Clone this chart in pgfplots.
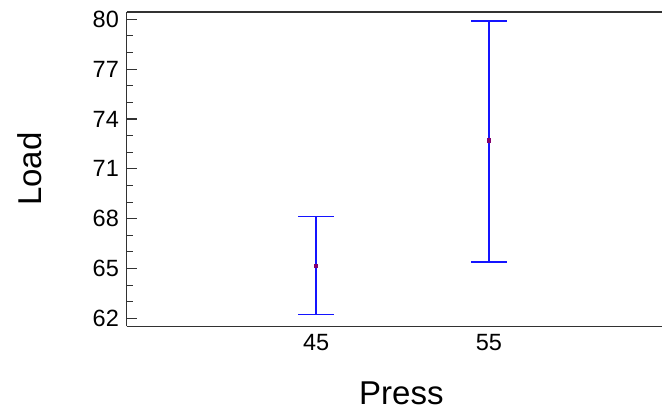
\documentclass[border=0pt]{standalone}
\usepackage{pgfplots}
\pgfplotsset{compat=1.18}
\usepackage{fontspec}
\setmainfont{Liberation Sans}
\definecolor{barblue}{RGB}{20,20,255}
\definecolor{meancol}{RGB}{130,0,110}
\definecolor{axgray}{RGB}{50,50,50}
\begin{document}
\begin{tikzpicture}
\path (-126.7pt,-84.5pt) rectangle (536.3pt,326.5pt);
\begin{axis}[
  at={(0,0)}, anchor=south west,
  scale only axis,
  width=535.5pt, height=314.5pt,
  xmin=34.04, xmax=65.03,
  ymin=61.51, ymax=80.44,
  axis x line*=box, axis y line*=left,
  axis line style={color=axgray, line width=1.3pt},
  xtick={45,55},
  x tick style={draw=none},
  ytick={62,65,68,71,74,77,80},
  minor y tick num=2,
  tick align=inside,
  y tick style={color=axgray, line width=1.1pt},
  major tick length=10.7pt,
  minor tick length=6.7pt,
  /pgf/number format/assume math mode=true,
  tick label style={font=\fontsize{23.5}{27}\selectfont, text=black},
  xticklabel style={yshift=-4pt},
  yticklabel style={xshift=-4.3pt},
  xlabel={Press}, ylabel={Load},
  label style={font=\fontsize{33}{40}\selectfont},
  xlabel style={at={(axis description cs:0.513,-0.2496)}, anchor=base},
  ylabel style={at={(axis description cs:-0.1806,0.5)}, anchor=center, rotate=0},
  clip=false,
]
\addplot[color=barblue, line width=1.3pt, mark=square*, mark size=1.8pt,
  mark options={color=meancol, fill=meancol, line width=0pt},
  only marks,
  error bars/.cd, y dir=both, y explicit,
  error bar style={color=barblue, line width=1.3pt},
  error mark options={rotate=90, mark size=17.7pt, color=barblue, line width=1.3pt}]
coordinates {
  (45,65.15) += (0,2.97) -= (0,2.93)
  (55,72.69) += (0,7.21) -= (0,7.30)
};
\end{axis}
\end{tikzpicture}
\end{document}
